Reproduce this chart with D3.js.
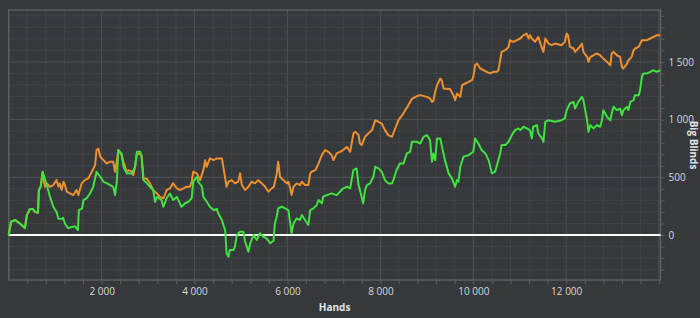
<!DOCTYPE html>
<html>
<head>
<meta charset="utf-8">
<script src="https://cdn.jsdelivr.net/npm/d3@7"></script>
<style>
  html, body { margin: 0; padding: 0; background: #36393c; }
  #graph { width: 700px; height: 318px; }
  .tick text { font-family: "Liberation Sans Narrow", "Open Sans", sans-serif; font-size: 10px; fill: #d8d8d8; }
</style>
</head>
<body>
<div id="graph"></div>
<script>
// hands played / big blinds won (net result)
var greenHands = [0, 50, 140, 240, 350, 390, 460, 520, 570, 630, 650, 690, 730, 820, 890, 960, 1030, 1070, 1150, 1170,
  1210, 1280, 1360, 1430, 1490, 1510, 1580, 1610, 1680, 1750, 1820, 1890, 1970, 2040, 2110, 2250, 2290, 2330, 2360, 2430,
  2470, 2540, 2650, 2720, 2760, 2830, 2860, 2900, 2970, 3040, 3110, 3150, 3190, 3290, 3330, 3400, 3470, 3540, 3620, 3720,
  3800, 3870, 3940, 3970, 4050, 4080, 4160, 4190, 4260, 4330, 4410, 4480, 4510, 4550, 4590, 4620, 4660, 4690, 4730, 4760,
  4840, 4870, 4910, 4980, 5050, 5090, 5160, 5200, 5270, 5340, 5410, 5480, 5550, 5630, 5700, 5730, 5770, 5800, 5880, 5950,
  6020, 6060, 6090, 6130, 6200, 6270, 6310, 6380, 6450, 6490, 6560, 6630, 6670, 6740, 6770, 6850, 6950, 7060, 7130, 7200,
  7280, 7350, 7380, 7420, 7490, 7530, 7560, 7630, 7670, 7710, 7780, 7850, 7890, 7960, 8030, 8100, 8170, 8250, 8280, 8350,
  8420, 8500, 8570, 8640, 8680, 8780, 8860, 8930, 9000, 9070, 9110, 9140, 9180, 9220, 9290, 9320, 9390, 9470, 9540, 9610,
  9650, 9680, 9720, 9790, 9900, 10000, 10040, 10110, 10180, 10260, 10330, 10400, 10470, 10540, 10580, 10610, 10690, 10760, 10830, 10900,
  10970, 11010, 11080, 11150, 11220, 11260, 11290, 11370, 11400, 11480, 11510, 11550, 11620, 11760, 11900, 11970, 12010, 12080, 12160, 12190,
  12260, 12340, 12370, 12410, 12450, 12480, 12520, 12590, 12660, 12730, 12770, 12800, 12880, 12950, 12980, 13020, 13090, 13160, 13200, 13230,
  13310, 13340, 13380, 13450, 13480, 13560, 13590, 13630, 13660, 13740, 13810, 13880, 13950, 14020];
var greenBB = [0, 115, 130, 100, 60, 173, 225, 225, 200, 200, 390, 420, 548, 433, 330, 245, 200, 140, 140, 150,
  100, 58, 70, 75, 43, 216, 230, 303, 320, 360, 418, 548, 505, 461, 450, 418, 346, 476, 736, 707,
  591, 534, 534, 591, 721, 721, 678, 476, 450, 418, 390, 288, 330, 303, 245, 320, 360, 303, 330, 245,
  275, 288, 320, 461, 505, 461, 418, 330, 290, 245, 216, 225, 188, 158, 130, 87, 43, -158, -188, -130,
  -130, -101, 0, 29, 29, -58, -144, -72, 0, -43, 15, -15, -29, -72, -50, 101, 158, 231, 245, 231,
  216, 101, 14, 101, 144, 130, 173, 130, 87, 216, 231, 260, 303, 274, 332, 346, 361, 346, 375, 404,
  418, 404, 476, 563, 577, 433, 389, 274, 389, 433, 447, 505, 591, 577, 548, 476, 447, 447, 476, 563,
  620, 620, 707, 721, 808, 808, 793, 851, 866, 822, 635, 707, 649, 837, 837, 779, 649, 534, 491, 418,
  476, 462, 591, 678, 692, 721, 837, 793, 736, 707, 649, 534, 548, 649, 707, 779, 779, 808, 866, 909,
  924, 909, 938, 924, 909, 837, 938, 952, 880, 837, 808, 981, 995, 981, 995, 1010, 1082, 1140, 1154, 1096,
  1154, 1197, 1169, 1082, 995, 894, 952, 924, 952, 938, 995, 1082, 1024, 995, 1053, 1111, 1082, 1096, 1039, 1082,
  1111, 1082, 1154, 1169, 1212, 1212, 1255, 1370, 1400, 1400, 1414, 1428, 1414, 1428];

// hands played / big blinds (all-in adjusted)
var orangeHands = [0, 50, 140, 240, 350, 390, 460, 520, 570, 630, 650, 690, 730, 780, 820, 890, 960, 1030, 1070, 1100,
  1140, 1180, 1210, 1250, 1320, 1390, 1460, 1500, 1570, 1640, 1710, 1790, 1860, 1890, 1930, 1970, 2040, 2110, 2180, 2250,
  2290, 2330, 2360, 2430, 2470, 2540, 2580, 2650, 2680, 2720, 2760, 2860, 2900, 2970, 3040, 3110, 3190, 3260, 3330, 3400,
  3470, 3540, 3620, 3690, 3760, 3830, 3900, 3940, 3970, 4050, 4120, 4190, 4230, 4260, 4330, 4410, 4480, 4590, 4620, 4660,
  4690, 4730, 4800, 4870, 4940, 4980, 5020, 5090, 5160, 5230, 5300, 5370, 5450, 5520, 5590, 5660, 5710, 5770, 5800, 5840,
  5910, 5990, 6020, 6060, 6090, 6130, 6200, 6270, 6310, 6380, 6450, 6490, 6520, 6600, 6670, 6740, 6810, 6880, 6950, 6990,
  7060, 7130, 7200, 7280, 7350, 7420, 7460, 7530, 7560, 7600, 7670, 7740, 7820, 7890, 7960, 8030, 8100, 8170, 8250, 8320,
  8390, 8490, 8580, 8680, 8770, 8860, 9000, 9070, 9110, 9140, 9180, 9220, 9290, 9320, 9360, 9500, 9570, 9610, 9650, 9720,
  9760, 9830, 9900, 9970, 10000, 10040, 10080, 10150, 10220, 10290, 10360, 10430, 10510, 10540, 10580, 10610, 10690, 10760, 10790, 10860,
  10940, 11010, 11080, 11150, 11190, 11220, 11260, 11330, 11400, 11480, 11510, 11550, 11620, 11690, 11760, 11900, 11970, 12010, 12040, 12080,
  12160, 12190, 12260, 12340, 12370, 12450, 12480, 12520, 12590, 12660, 12730, 12800, 12880, 12950, 12980, 13020, 13090, 13160, 13200, 13230,
  13310, 13340, 13410, 13450, 13480, 13560, 13630, 13740, 13810, 13880, 13950, 14020];
var orangeBB = [0, 115, 130, 100, 60, 173, 225, 225, 200, 190, 390, 420, 548, 418, 447, 418, 433, 476, 418, 447,
  390, 461, 433, 375, 360, 346, 390, 346, 447, 476, 490, 548, 606, 736, 750, 678, 649, 620, 635, 635,
  548, 649, 736, 692, 635, 548, 562, 548, 519, 591, 707, 692, 490, 490, 447, 390, 360, 330, 318, 390,
  404, 447, 404, 390, 404, 418, 418, 461, 548, 534, 476, 562, 649, 591, 664, 649, 664, 664, 591, 491,
  418, 462, 476, 447, 462, 534, 433, 390, 418, 462, 447, 476, 447, 418, 375, 404, 418, 534, 635, 505,
  476, 447, 462, 404, 346, 418, 447, 433, 462, 433, 433, 534, 548, 562, 620, 692, 736, 721, 692, 649,
  707, 721, 736, 764, 721, 880, 894, 866, 793, 780, 851, 880, 909, 995, 980, 966, 909, 866, 851, 923,
  995, 1050, 1110, 1180, 1200, 1212, 1197, 1183, 1154, 1160, 1241, 1298, 1356, 1340, 1270, 1265, 1212, 1169, 1227, 1197,
  1298, 1313, 1327, 1342, 1370, 1471, 1486, 1443, 1428, 1414, 1400, 1414, 1414, 1428, 1515, 1587, 1602, 1630, 1688, 1674,
  1688, 1703, 1731, 1746, 1703, 1731, 1703, 1674, 1717, 1616, 1587, 1703, 1659, 1645, 1659, 1645, 1674, 1746, 1731, 1630,
  1616, 1587, 1616, 1659, 1587, 1544, 1500, 1544, 1558, 1573, 1558, 1529, 1500, 1471, 1573, 1587, 1558, 1544, 1457, 1443,
  1486, 1515, 1544, 1601, 1616, 1630, 1688, 1688, 1703, 1717, 1731, 1731];

// axis ticks: minor every 400 hands / 100 BB, labels on the majors
var xTicks = d3.range(400, 14001, 400);
var xLabels = [2000, 4000, 6000, 8000, 10000, 12000];
var yTicks = d3.range(-300, 1901, 100);
var yLabels = [0, 500, 1000, 1500];

// set the dimensions and margins of the graph
var margin = {top: 10, right: 39.5, bottom: 38, left: 8.7},
    width = 700 - margin.left - margin.right,
    height = 318 - margin.top - margin.bottom;

var fmt = d3.formatLocale({decimal: ".", thousands: " ", grouping: [3], currency: ["", ""]}).format(",");

var svg = d3.select("#graph")
  .append("svg")
    .attr("width", 700)
    .attr("height", 318)
  .append("g")
    .attr("transform", "translate(" + margin.left + "," + margin.top + ")");

// set the ranges
var x = d3.scaleLinear().domain([0, 14030]).range([0, width]);
var y = d3.scaleLinear().domain([-390, 1950]).range([height, 0]);

// gridlines (majors a bit brighter)
svg.append("g")
  .selectAll("line.vx")
  .data(xTicks)
  .join("line")
    .attr("x1", function(d) { return x(d) }).attr("x2", function(d) { return x(d) })
    .attr("y1", 0).attr("y2", height)
    .attr("stroke", function(d) { return d % 2000 === 0 ? "#4f5255" : "#424548" })
    .attr("stroke-width", 1);

svg.append("g")
  .selectAll("line.hy")
  .data(yTicks)
  .join("line")
    .attr("x1", 0).attr("x2", width)
    .attr("y1", function(d) { return y(d) }).attr("y2", function(d) { return y(d) })
    .attr("stroke", function(d) { return d % 500 === 0 ? "#4f5255" : "#424548" })
    .attr("stroke-width", 1);

// plot border
svg.append("rect")
  .attr("width", width)
  .attr("height", height)
  .attr("fill", "none")
  .attr("stroke", "#5c5f62")
  .attr("stroke-width", 1.5);

// X axis
var xAxis = svg.append("g")
  .attr("transform", "translate(0," + height + ")")
  .call(d3.axisBottom(x)
    .tickValues(xTicks)
    .tickSize(4)
    .tickPadding(4)
    .tickFormat(function(d) { return xLabels.indexOf(d) >= 0 ? fmt(d) : "" }));
xAxis.select(".domain").remove();
xAxis.selectAll(".tick line").attr("stroke", "#5c5f62");

// Y axis on the right
var yAxis = svg.append("g")
  .attr("transform", "translate(" + width + ",0)")
  .call(d3.axisRight(y)
    .tickValues(yTicks)
    .tickSize(4)
    .tickPadding(4)
    .tickFormat(function(d) { return yLabels.indexOf(d) >= 0 ? fmt(d) : "" }));
yAxis.select(".domain").remove();
yAxis.selectAll(".tick line").attr("stroke", "#5c5f62");

// axis titles
svg.append("text")
  .attr("x", width / 2)
  .attr("y", height + 31)
  .attr("text-anchor", "middle")
  .style("font-family", "'Liberation Sans Narrow', 'Open Sans', sans-serif")
  .style("font-size", "10px")
  .style("font-weight", "bold")
  .style("fill", "#e4e4e4")
  .text("Hands");

svg.append("text")
  .attr("transform", "translate(" + (width + 29) + "," + (height / 2) + ") rotate(90)")
  .attr("text-anchor", "middle")
  .style("font-family", "'Liberation Sans Narrow', 'Open Sans', sans-serif")
  .style("font-size", "10px")
  .style("font-weight", "bold")
  .style("fill", "#e4e4e4")
  .text("Big Blinds");

// zero line
svg.append("line")
  .attr("x1", 0).attr("x2", width)
  .attr("y1", y(0)).attr("y2", y(0))
  .attr("stroke", "#ffffff")
  .attr("stroke-width", 2);

var line = d3.line()
  .x(function(d) { return x(d[0]) })
  .y(function(d) { return y(d[1]) });

// Add the lines
svg.append("path")
  .datum(d3.zip(orangeHands, orangeBB))
  .attr("fill", "none")
  .attr("stroke", "#ef8f2d")
  .attr("stroke-width", 2)
  .attr("stroke-linejoin", "round")
  .attr("d", line);

svg.append("path")
  .datum(d3.zip(greenHands, greenBB))
  .attr("fill", "none")
  .attr("stroke", "#3fe23f")
  .attr("stroke-width", 2)
  .attr("stroke-linejoin", "round")
  .attr("d", line);
</script>
</body>
</html>
